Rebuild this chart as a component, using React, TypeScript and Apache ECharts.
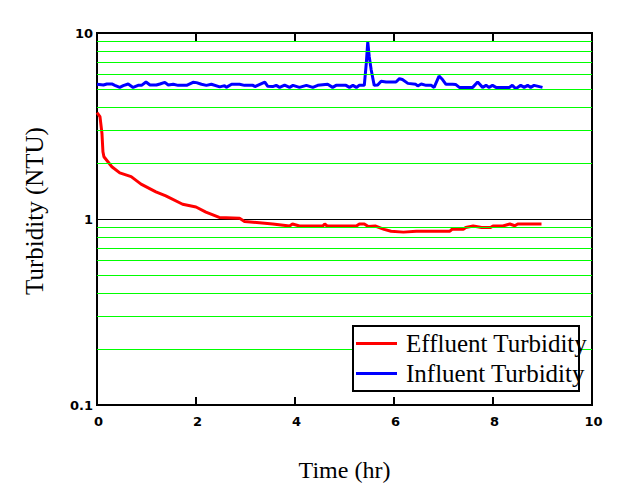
import React, { useEffect, useRef } from "react";
import * as echarts from "echarts";

// Time (hr), Turbidity (NTU)
const effluent: [number, number][] = [
  [0, 3.73], [0.06, 3.55], [0.1, 2.89], [0.12, 2.3], [0.14, 2.16], [0.3, 1.91],
  [0.46, 1.77], [0.69, 1.69], [0.89, 1.54], [1.19, 1.4], [1.39, 1.33], [1.73, 1.2],
  [2.0, 1.16], [2.2, 1.09], [2.47, 1.02], [2.88, 1.01], [2.98, 0.97], [3.28, 0.955],
  [3.55, 0.94], [3.89, 0.917], [3.95, 0.94], [4.09, 0.917], [4.56, 0.917], [4.6, 0.94],
  [4.65, 0.917], [5.24, 0.917], [5.3, 0.94], [5.4, 0.94], [5.48, 0.91], [5.62, 0.917],
  [5.8, 0.88], [5.94, 0.86], [6.19, 0.85], [6.45, 0.86], [7.13, 0.86], [7.17, 0.88],
  [7.4, 0.88], [7.45, 0.9], [7.6, 0.917], [7.77, 0.9], [7.95, 0.9], [8.0, 0.917],
  [8.2, 0.917], [8.34, 0.94], [8.44, 0.92], [8.5, 0.94], [8.98, 0.94],
];

const influent: [number, number][] = [
  [0, 5.3], [0.13, 5.25], [0.2, 5.32], [0.3, 5.32], [0.36, 5.23], [0.46, 5.1],
  [0.53, 5.21], [0.63, 5.32], [0.73, 5.1], [0.83, 5.23], [0.9, 5.23], [0.99, 5.45],
  [1.07, 5.25], [1.2, 5.25], [1.27, 5.32], [1.37, 5.43], [1.44, 5.25], [1.54, 5.3],
  [1.64, 5.23], [1.81, 5.23], [1.94, 5.43], [2.01, 5.41], [2.11, 5.3], [2.21, 5.23],
  [2.31, 5.3], [2.48, 5.13], [2.58, 5.21], [2.61, 5.1], [2.72, 5.3], [2.88, 5.3],
  [2.98, 5.23], [3.15, 5.23], [3.19, 5.15], [3.29, 5.3], [3.39, 5.45], [3.45, 5.17],
  [3.55, 5.15], [3.62, 5.23], [3.69, 5.1], [3.79, 5.25], [3.89, 5.1], [3.96, 5.23],
  [4.09, 5.1], [4.23, 5.23], [4.36, 5.1], [4.46, 5.23], [4.66, 5.3], [4.76, 5.1],
  [4.83, 5.23], [5.03, 5.23], [5.1, 5.1], [5.17, 5.23], [5.24, 5.1], [5.3, 5.23],
  [5.4, 5.23], [5.44, 6.87], [5.47, 8.95], [5.5, 7.46], [5.54, 6.32], [5.6, 5.23],
  [5.67, 5.25], [5.74, 5.5], [5.84, 5.45], [6.04, 5.45], [6.11, 5.68], [6.17, 5.62],
  [6.28, 5.36], [6.44, 5.3], [6.48, 5.19], [6.55, 5.32], [6.65, 5.23], [6.75, 5.23],
  [6.81, 5.1], [6.91, 5.87], [6.98, 5.62], [7.05, 5.3], [7.18, 5.3], [7.25, 5.28],
  [7.32, 5.1], [7.59, 5.1], [7.69, 5.45], [7.79, 5.1], [7.86, 5.23], [7.92, 5.1],
  [7.99, 5.23], [8.06, 5.1], [8.33, 5.1], [8.39, 5.23], [8.46, 5.02], [8.56, 5.23],
  [8.63, 5.1], [8.7, 5.23], [8.76, 5.1], [8.83, 5.23], [9.0, 5.1],
];

const minorGrid = [0.2, 0.3, 0.4, 0.5, 0.6, 0.7, 0.8, 0.9, 2, 3, 4, 5, 6, 7, 8, 9];
const seriesNames = ["Effluent Turbidity", "Influent Turbidity"];
const xTitle = "Time (hr)";
const yTitle = "Turbidity (NTU)";

export default function App() {
  const ref = useRef<HTMLDivElement>(null);
  useEffect(() => {
    if (!ref.current) return;
    const chart = echarts.init(ref.current, null, { renderer: "svg" });
    const labelFont = {
      fontFamily: "DejaVu Sans",
      fontWeight: "bold" as const,
      fontSize: 13,
      color: "#000",
    };
    chart.setOption({
      animation: false,
      backgroundColor: "#fff",
      grid: {
        left: 97,
        right: 32,
        top: 33,
        bottom: 92,
        show: true,
        borderColor: "#000",
        borderWidth: 2,
      },
      xAxis: [
        {
          type: "value",
          min: 0,
          max: 10,
          interval: 2,
          name: xTitle,
          nameLocation: "middle",
          nameGap: 53,
          nameTextStyle: { fontFamily: "Liberation Serif", fontSize: 24, color: "#000" },
          axisLine: { show: false },
          axisTick: { show: true, inside: true, length: 8, lineStyle: { color: "#000", width: 2 } },
          axisLabel: { ...labelFont, margin: 10, padding: [0, 0, 0, 3] },
          splitLine: { show: false },
        },
        {
          type: "value",
          position: "top",
          min: 0,
          max: 10,
          interval: 2,
          axisLine: { show: false },
          axisTick: { show: true, inside: true, length: 8, lineStyle: { color: "#000", width: 2 } },
          axisLabel: { show: false },
          splitLine: { show: false },
        },
      ],
      yAxis: {
        type: "log",
        logBase: 10,
        min: 0.1,
        max: 10,
        axisLine: { show: false },
        axisTick: { show: false },
        axisLabel: {
          ...labelFont,
          margin: 4,
          padding: [7, 0, 0, 0],
          formatter: (v: number) => String(v),
        },
        splitLine: { show: true, lineStyle: { color: "#000", width: 1 } },
      },
      legend: {
        orient: "vertical",
        left: 356,
        top: 331,
        padding: 0,
        icon: "rect",
        itemWidth: 41,
        itemHeight: 3,
        itemGap: 5,
        data: seriesNames,
        textStyle: {
          fontFamily: "Liberation Serif",
          fontSize: 25,
          lineHeight: 25,
          color: "#000",
          padding: [0, 0, 0, 4],
        },
        z: 10,
      },
      graphic: [
        {
          type: "rect",
          z: 9,
          shape: { x: 353, y: 326, width: 226, height: 65 },
          style: { fill: "#fff", stroke: "#000", lineWidth: 2 },
        },
        {
          type: "text",
          x: 34,
          y: 211,
          rotation: Math.PI / 2,
          style: {
            text: yTitle,
            fontFamily: "Liberation Serif",
            fontSize: 25,
            fill: "#000",
            textAlign: "center",
            textVerticalAlign: "middle",
          },
        },
      ],
      series: [
        {
          name: "grid",
          type: "line",
          data: [],
          z: 1,
          silent: true,
          markLine: {
            silent: true,
            symbol: "none",
            label: { show: false },
            lineStyle: { color: "#00ff00", width: 1, type: "solid" },
            data: minorGrid.map((v) => ({ yAxis: v })),
          },
        },
        {
          name: seriesNames[0],
          type: "line",
          data: effluent,
          symbol: "none",
          color: "#ff0000",
          lineStyle: { color: "#ff0000", width: 3 },
          z: 3,
        },
        {
          name: seriesNames[1],
          type: "line",
          data: influent,
          symbol: "none",
          color: "#0000ff",
          lineStyle: { color: "#0000ff", width: 3 },
          z: 3,
        },
      ],
    });
    return () => chart.dispose();
  }, []);
  return (
    <div
      ref={ref}
      style={{ position: "fixed", left: 0, top: 0, width: 624, height: 497 }}
    />
  );
}
